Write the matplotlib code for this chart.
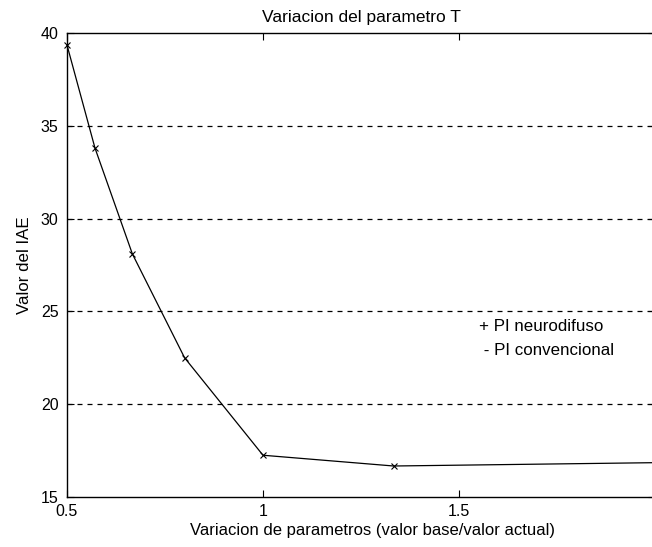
import matplotlib
matplotlib.use("Agg")
import matplotlib.pyplot as plt

# Data
x_vals = [0.5, 0.5714, 0.6667, 0.8, 1.0, 1.3333, 2.0]
iae_vals = [39.35, 33.8, 28.1, 22.5, 17.25, 16.67, 16.85]
x_ticks = [0.5, 1.0, 1.5]
x_ticklabels = ["0.5", "1", "1.5"]
y_ticks = [15, 20, 25, 30, 35, 40]
grid_levels = [20, 25, 30, 35]
legend_lines = ["+ PI neurodifuso", " - PI convencional"]

plt.rcParams['font.family'] = ['Liberation Sans', 'DejaVu Sans']

fig = plt.figure(figsize=(6.52, 5.47), dpi=100)
ax = fig.add_axes([67/652, 50/547, 588/652, 464/547])

ax.plot(x_vals, iae_vals, color='black', linewidth=0.9, marker='x',
        markersize=4, markeredgewidth=0.8, clip_on=False)

for g in grid_levels:
    ax.axhline(g, color='black', linestyle=(0, (4, 4)), linewidth=0.9)

ax.set_xlim(0.5, 2.0)
ax.set_ylim(15, 40)
ax.set_xticks(x_ticks)
ax.set_xticklabels(x_ticklabels)
ax.set_yticks(y_ticks)
ax.tick_params(direction='in', length=5, labelsize=11.5, colors='black',
               top=True, right=True)
ax.tick_params(axis='x', pad=5)
ax.tick_params(axis='y', pad=6)
for s in ax.spines.values():
    s.set_linewidth(1.0)

ax.set_title("Variacion del parametro T", fontsize=12.5, pad=8)
ax.set_xlabel("Variacion de parametros (valor base/valor actual)", fontsize=12, labelpad=4)
ax.xaxis.set_label_coords(0.52, -0.055)
ax.set_ylabel("Valor del IAE", fontsize=12.2, labelpad=6)

ax.text(1.552, 24.16, legend_lines[0], fontsize=12.2, va='center', ha='left')
ax.text(1.552, 22.92, legend_lines[1], fontsize=12.2, va='center', ha='left')

fig.savefig("out.png", dpi=100, facecolor='white')
